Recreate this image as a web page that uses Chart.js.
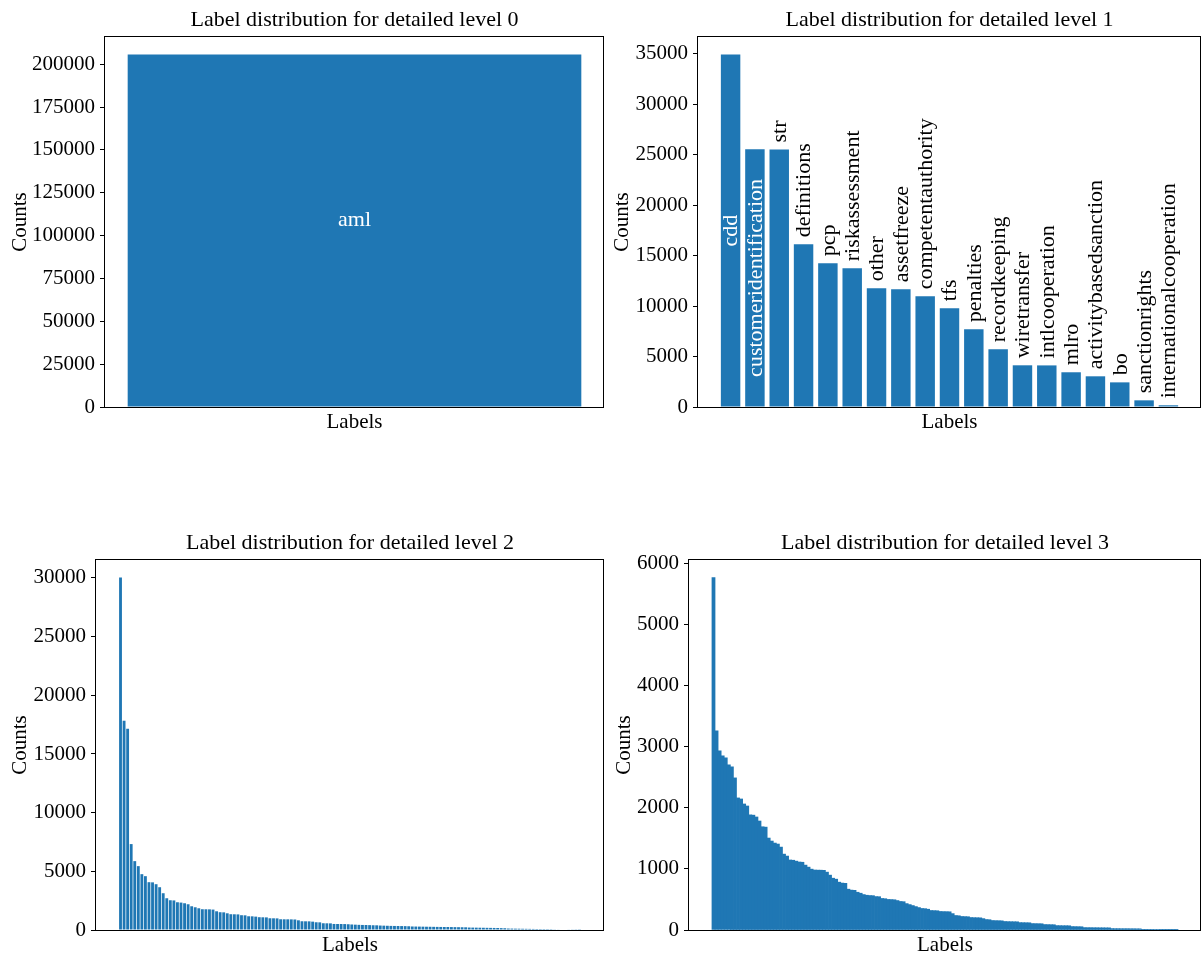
<!DOCTYPE html>
<html>
<head>
<meta charset="utf-8">
<script src="https://cdn.jsdelivr.net/npm/chart.js@4.4.1/dist/chart.umd.min.js"></script>
<style>
  html, body { margin: 0; padding: 0; background: #fff; width: 1203px; height: 955px; overflow: hidden; }
  canvas { position: absolute; }
</style>
</head>
<body>
<canvas id="c0" width="606" height="440" style="left:0;top:0"></canvas>
<canvas id="c1" width="597" height="440" style="left:606px;top:0"></canvas>
<canvas id="c2" width="606" height="440" style="left:0;top:523px"></canvas>
<canvas id="c3" width="597" height="440" style="left:606px;top:523px"></canvas>
<script>
// ---- label counts per detail level ----
const level0Labels = ['aml'];
const level0Counts = [205560];

const level1Labels = ['cdd', 'customeridentification', 'str', 'definitions', 'pcp', 'riskassessment',
  'other', 'assetfreeze', 'competentauthority', 'tfs', 'penalties', 'recordkeeping', 'wiretransfer',
  'intlcooperation', 'mlro', 'activitybasedsanction', 'bo', 'sanctionrights', 'internationalcooperation'];
const level1Counts = [34900, 25520, 25500, 16110, 14230, 13740, 11750, 11650, 10960, 9770, 7690, 5710,
  4130, 4120, 3440, 3040, 2440, 660, 170];

const level2Counts = [
  30030, 17835, 17150, 7322, 5869, 5442, 4758, 4587, 4074, 4060,
  3903, 3646, 3134, 2706, 2535, 2520, 2364, 2336, 2279, 2194,
  2023, 1937, 1852, 1770, 1766, 1760, 1740, 1595, 1515, 1505,
  1424, 1345, 1339, 1330, 1260, 1250, 1170, 1165, 1140, 1090,
  1083, 1075, 1000, 997, 990, 915, 912, 910, 905, 895,
  826, 745, 741, 738, 712, 660, 652, 575, 570, 565,
  515, 513, 510, 505, 490, 470, 455, 440, 430, 425,
  415, 405, 400, 380, 370, 360, 350, 345, 340, 335,
  330, 320, 300, 295, 290, 285, 280, 275, 270, 265,
  260, 258, 255, 250, 245, 240, 235, 230, 210, 205,
  200, 195, 190, 185, 180, 175, 170, 160, 150, 125,
  120, 115, 110, 105, 100, 95, 90, 85, 80, 78,
  75, 70, 55, 50, 45, 40, 35, 30, 25, 20
];

const level3Counts = [
  5769, 3262, 2934, 2851, 2819, 2704, 2671, 2490, 2162, 2145,
  2063, 2030, 1885, 1880, 1850, 1784, 1690, 1684, 1505, 1456,
  1423, 1407, 1357, 1242, 1210, 1146, 1142, 1127, 1113, 1109,
  1062, 1029, 996, 982, 980, 979, 977, 947, 898, 848,
  832, 783, 768, 764, 668, 653, 649, 618, 602, 580,
  569, 564, 562, 547, 545, 516, 512, 500, 498, 495,
  482, 467, 463, 432, 416, 400, 383, 367, 352, 349,
  340, 319, 317, 315, 303, 301, 300, 298, 268, 237,
  233, 221, 219, 217, 204, 202, 201, 199, 186, 171,
  168, 155, 153, 152, 150, 139, 137, 136, 135, 134,
  121, 120, 119, 118, 105, 104, 103, 102, 89, 88,
  87, 86, 72, 71, 70, 70, 69, 56, 55, 54,
  53, 39, 38, 38, 37, 37, 36, 36, 35, 35,
  23, 22, 22, 21, 21, 21, 20, 20, 19, 19,
  11, 11, 10, 10, 9, 9, 5, 5, 4, 4,
  2, 2
];

const BAR_COLOR = '#1f77b4';
const SERIF = '"Liberation Serif", "Times New Roman", serif';

// Black frame around the plotting area (all four spines).
const framePlugin = {
  id: 'frame',
  afterDraw(chart) {
    const { ctx, chartArea: a } = chart;
    ctx.save();
    ctx.strokeStyle = '#000';
    ctx.lineWidth = 1;
    const l = Math.round(a.left) - 0.5, t = Math.round(a.top) - 0.5;
    const r = Math.round(a.right) - 0.5, b = Math.round(a.bottom) + 0.5;
    ctx.strokeRect(l, t, r - l, b - t);
    ctx.restore();
  }
};

// Category names written on / above the bars.
const barTextPlugin = {
  id: 'barText',
  afterDatasetsDraw(chart, args, opts) {
    if (!opts || !opts.labels) return;
    const { ctx } = chart;
    const meta = chart.getDatasetMeta(0);
    ctx.save();
    ctx.font = `${opts.size}px ${SERIF}`;
    meta.data.forEach((bar, i) => {
      const text = opts.labels[i];
      if (opts.mode === 'flat') {
        ctx.fillStyle = '#fff';
        ctx.textAlign = 'center';
        ctx.textBaseline = 'middle';
        ctx.fillText(text, bar.x, (bar.y + bar.base) / 2 + opts.shift);
        return;
      }
      ctx.save();
      const inside = i < opts.insideCount;
      if (inside) {
        ctx.translate(bar.x, (bar.y + bar.base) / 2);
        ctx.rotate(-Math.PI / 2);
        ctx.fillStyle = '#fff';
        ctx.textAlign = 'center';
      } else {
        ctx.translate(bar.x, bar.y - opts.gap);
        ctx.rotate(-Math.PI / 2);
        ctx.fillStyle = '#000';
        ctx.textAlign = 'left';
      }
      ctx.textBaseline = 'middle';
      ctx.fillText(text, 0, 1);
      ctx.restore();
    });
    ctx.restore();
  }
};

function makePanel(id, { title, counts, step, yWidth, yTitlePad, barText, solid }) {
  const n = counts.length;
  const span = 1.1 * (n - 0.2);          // bar extent plus 5% margin on each side
  const margin = 0.05 * (n - 0.2);
  const yMax = 1.05 * Math.max(...counts);
  // bars are 0.8 units wide; with one category the ruler falls back to the axis length
  const barPct = solid ? 1.0 : 0.8 * Math.max(1, 1 / span);
  new Chart(document.getElementById(id), {
    type: 'bar',
    data: {
      datasets: [{
        data: counts.map((v, i) => ({ x: i, y: v })),
        backgroundColor: BAR_COLOR,
        borderWidth: 0,
        barPercentage: barPct,
        categoryPercentage: 1.0,
        inflateAmount: solid ? 0.35 : 0
      }]
    },
    options: {
      responsive: false,
      animation: false,
      events: [],
      layout: { padding: { left: 0, right: 2, top: 0, bottom: 3 } },
      plugins: {
        legend: { display: false },
        tooltip: { enabled: false },
        title: {
          display: true,
          fullSize: false,
          text: title,
          color: '#000',
          font: { family: SERIF, size: 22, weight: 'normal', lineHeight: 1.2 },
          padding: { top: 7.3, bottom: 3.3 }
        },
        barText: barText || {}
      },
      scales: {
        x: {
          type: 'linear',
          bounds: 'data',
          offset: false,
          min: -0.4 - margin,
          max: n - 1 + 0.4 + margin,
          afterBuildTicks(scale) {
            const t = [];
            for (let v = Math.floor(scale.min) - 1; v <= Math.ceil(scale.max) + 1; v++) t.push({ value: v });
            scale.ticks = t;
          },
          ticks: { display: false },
          grid: { display: false },
          border: { display: false },
          title: {
            display: true, text: 'Labels', color: '#000',
            font: { family: SERIF, size: 21, lineHeight: 1.2 },
            padding: { top: 0, bottom: 2 }
          },
          afterFit(scale) { scale.height = 30; }
        },
        y: {
          bounds: 'data',
          min: 0,
          max: yMax,
          afterBuildTicks(scale) {
            const t = [];
            for (let v = 0; v <= yMax; v += step) t.push({ value: v });
            scale.ticks = t;
          },
          ticks: {
            color: '#000', padding: 5,
            font: { family: SERIF, size: 21 },
            callback: v => String(v)
          },
          grid: {
            display: true, drawOnChartArea: false, drawTicks: true,
            tickLength: 5, tickColor: '#000', tickWidth: 1
          },
          border: { display: false },
          title: {
            display: true, text: 'Counts', color: '#000',
            font: { family: SERIF, size: 21, lineHeight: 1.2 },
            padding: { top: yTitlePad, bottom: 0 }
          },
          afterFit(scale) { scale.width = yWidth; }
        }
      }
    },
    plugins: [barTextPlugin, framePlugin]
  });
}

makePanel('c0', {
  title: 'Label distribution for detailed level 0',
  counts: level0Counts, step: 25000, yWidth: 105, yTitlePad: 8,
  barText: { labels: level0Labels, mode: 'flat', size: 22, shift: -10 }
});
makePanel('c1', {
  title: 'Label distribution for detailed level 1',
  counts: level1Counts, step: 5000, yWidth: 92, yTitlePad: 4,
  barText: { labels: level1Labels, mode: 'rotated', size: 22, gap: 7, insideCount: 2 }
});
makePanel('c2', {
  title: 'Label distribution for detailed level 2',
  counts: level2Counts, step: 5000, yWidth: 96, yTitlePad: 8
});
makePanel('c3', {
  title: 'Label distribution for detailed level 3',
  counts: level3Counts, step: 1000, yWidth: 83, yTitlePad: 6, solid: true
});
</script>
</body>
</html>
